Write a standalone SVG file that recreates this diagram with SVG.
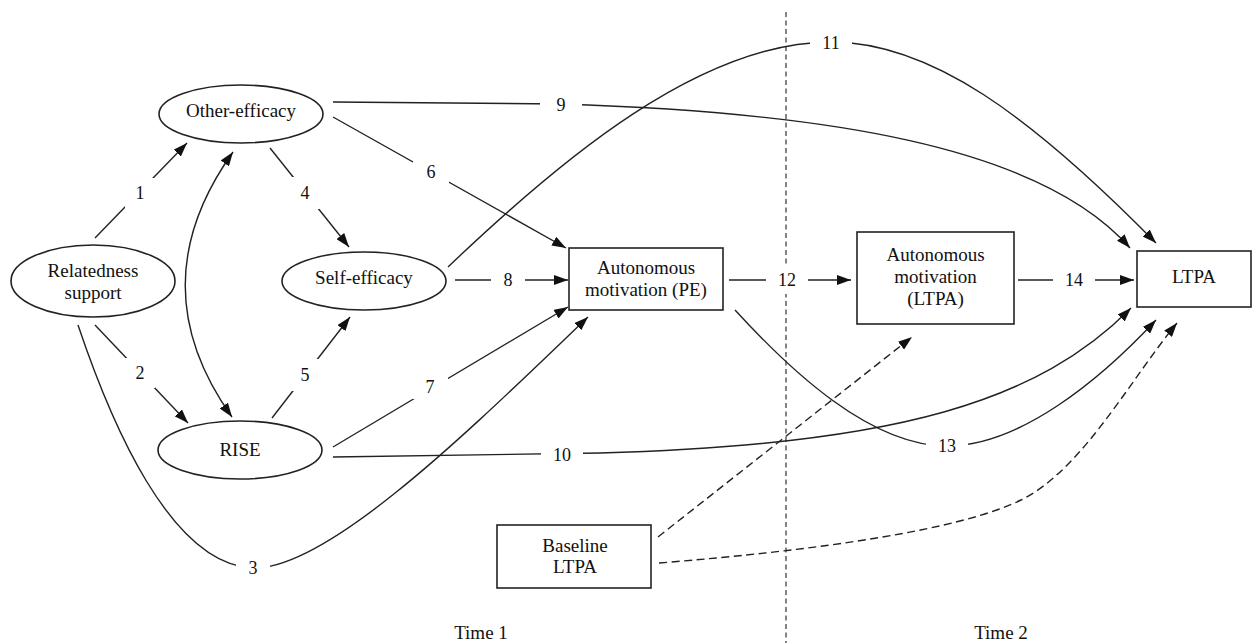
<svg xmlns="http://www.w3.org/2000/svg" width="1254" height="643" viewBox="0 0 1254 643">
<style>
.bg{fill:#fff}
.node{fill:#fff;stroke:#222;stroke-width:1.6}
.t{font-family:"Liberation Serif","Times New Roman",serif;font-size:19px;fill:#111;text-anchor:middle}
.n{font-family:"Liberation Serif","Times New Roman",serif;font-size:18px;fill:#111;text-anchor:middle}
.c{fill:none;stroke:#222;stroke-width:1.4}
.a{marker-end:url(#ah)}
.d{stroke-dasharray:8 4.5}
.sep{fill:none;stroke:#333;stroke-width:1.2;stroke-dasharray:5 3.5}
.lb{fill:#fff}
</style>
<defs>
<marker id="ah" viewBox="0 0 14 10" markerWidth="14" markerHeight="10" refX="14" refY="5" markerUnits="userSpaceOnUse" orient="auto-start-reverse">
<path d="M0,0 L14,5 L0,10 Z" fill="#111"/>
</marker>
</defs>
<rect class="bg" x="0" y="0" width="1254" height="643"/>

<g id="divider">
<path class="sep" d="M786,12 L786,643"/>
</g>

<g id="connectors">
<path class="c a" d="M95,238 L187,143"/>
<path class="c a" d="M95,325 L188,423"/>
<path class="c a" d="M78,325 C110,420 170,565 253,568 C330,570 480,420 588,317"/>
<path class="c a" d="M270,148 L349,247"/>
<path class="c a" d="M272,418 L350,317"/>
<path class="c a" d="M333,117 L566,248"/>
<path class="c a" d="M333,447 L568,307"/>
<path class="c a" d="M455,280 L568,280"/>
<path class="c a" d="M333,102 L560,104 C820,112 1040,145 1130,248"/>
<path class="c a" d="M333,457 L600,453 C900,445 1040,400 1131,308"/>
<path class="c a" d="M448,267 C560,160 700,42 831,42 C930,42 1030,115 1156,243"/>
<path class="c a" style="marker-start:url(#ah)" d="M233,152 Q138,285 232,417"/>
<path class="c a" d="M729,280 L851,280"/>
<path class="c a" d="M735,310 C790,370 870,446 947,446 C1020,446 1100,380 1156,320"/>
<path class="c a" d="M1018,280 L1134,280"/>
<path class="c d a" d="M658,537 L912,337"/>
<path class="c d a" d="M659,563 C820,550 960,530 1021,500 C1082,470 1130,380 1177,323"/>

<g id="labels">
<rect class="lb" x="125" y="178" width="30" height="30"/><text class="n" x="140" y="199">1</text>
<rect class="lb" x="125" y="358" width="30" height="30"/><text class="n" x="140" y="379">2</text>
<rect class="lb" x="236" y="556" width="34" height="24"/><text class="n" x="253" y="574">3</text>
<rect class="lb" x="290" y="177" width="30" height="32"/><text class="n" x="305" y="199">4</text>
<rect class="lb" x="290" y="359" width="30" height="32"/><text class="n" x="305" y="381">5</text>
<rect class="lb" x="413" y="160" width="36" height="24"/><text class="n" x="431" y="178">6</text>
<rect class="lb" x="412" y="375" width="36" height="24"/><text class="n" x="430" y="393">7</text>
<rect class="lb" x="491" y="268" width="34" height="24"/><text class="n" x="508" y="286">8</text>
<rect class="lb" x="540" y="93" width="42" height="24"/><text class="n" x="561" y="111">9</text>
<rect class="lb" x="541" y="443" width="42" height="24"/><text class="n" x="562" y="461">10</text>
<rect class="lb" x="810" y="31" width="42" height="24"/><text class="n" x="831" y="49">11</text>
<rect class="lb" x="766" y="266" width="42" height="28"/><text class="n" x="787" y="286">12</text>
<rect class="lb" x="926" y="434" width="42" height="24"/><text class="n" x="947" y="452">13</text>
<rect class="lb" x="1053" y="268" width="42" height="24"/><text class="n" x="1074" y="286">14</text>
</g>
</g>

<g id="relatedness-support">
<ellipse class="node" cx="93" cy="281" rx="82" ry="36"/>
<text class="t" x="93" y="277">Relatedness</text>
<text class="t" x="93" y="299">support</text>
</g>
<g id="other-efficacy">
<ellipse class="node" cx="241" cy="114" rx="82" ry="29"/>
<text class="t" x="241" y="117">Other-efficacy</text>
</g>
<g id="self-efficacy">
<ellipse class="node" cx="364" cy="281" rx="82" ry="29"/>
<text class="t" x="364" y="284">Self-efficacy</text>
</g>
<g id="rise">
<ellipse class="node" cx="240" cy="450" rx="82" ry="29"/>
<text class="t" x="240" y="456">RISE</text>
</g>
<g id="autonomous-motivation-pe">
<rect class="node" x="569" y="248" width="154" height="62"/>
<text class="t" x="646" y="274">Autonomous</text>
<text class="t" x="646" y="296">motivation (PE)</text>
</g>
<g id="autonomous-motivation-ltpa">
<rect class="node" x="857" y="232" width="157" height="92"/>
<text class="t" x="935.5" y="261">Autonomous</text>
<text class="t" x="935.5" y="283">motivation</text>
<text class="t" x="935.5" y="305">(LTPA)</text>
</g>
<g id="ltpa">
<rect class="node" x="1137" y="251" width="114" height="56"/>
<text class="t" x="1194" y="283">LTPA</text>
</g>
<g id="baseline-ltpa">
<rect class="node" x="497" y="525" width="154" height="63"/>
<text class="t" x="575" y="552">Baseline</text>
<text class="t" x="575" y="573">LTPA</text>
</g>
<g id="time-labels">
<text class="t" x="481" y="639">Time 1</text>
<text class="t" x="1001" y="639">Time 2</text>
</g>
</svg>
